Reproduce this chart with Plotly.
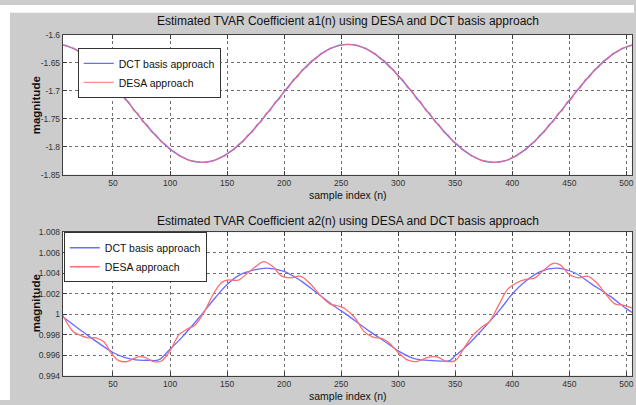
import plotly.graph_objects as go

W, H = 636, 405

# ---- a1(n): DCT basis estimate (every 8 samples) ----
dct_a1_n = list(range(0, 513, 8))
dct_a1 = [
    -1.6170, -1.6190, -1.6250, -1.6348, -1.6479, -1.6639, -1.6821, -1.7019,
    -1.7225, -1.7431, -1.7629, -1.7811, -1.7971, -1.8102, -1.8200, -1.8260,
    -1.8280, -1.8260, -1.8200, -1.8102, -1.7971, -1.7811, -1.7629, -1.7431,
    -1.7225, -1.7019, -1.6821, -1.6639, -1.6479, -1.6348, -1.6250, -1.6190,
    -1.6170, -1.6190, -1.6250, -1.6348, -1.6479, -1.6639, -1.6821, -1.7019,
    -1.7225, -1.7431, -1.7629, -1.7811, -1.7971, -1.8102, -1.8200, -1.8260,
    -1.8280, -1.8260, -1.8200, -1.8102, -1.7971, -1.7811, -1.7629, -1.7431,
    -1.7225, -1.7019, -1.6821, -1.6639, -1.6479, -1.6348, -1.6250, -1.6190,
    -1.6170,
]

# ---- a1(n): DESA estimate (every 4 samples, with ripple) ----
desa_a1_n = list(range(4, 509, 4))
desa_a1 = [
    -1.6177, -1.6185, -1.6222, -1.6240, -1.6307, -1.6334, -1.6426, -1.6461,
    -1.6575, -1.6618, -1.6750, -1.6798, -1.6943, -1.6994, -1.7147, -1.7200,
    -1.7353, -1.7406, -1.7555, -1.7606, -1.7744, -1.7790, -1.7913, -1.7953,
    -1.8056, -1.8088, -1.8167, -1.8190, -1.8242, -1.8255, -1.8277, -1.8280,
    -1.8277, -1.8255, -1.8242, -1.8190, -1.8167, -1.8088, -1.8056, -1.7953,
    -1.7913, -1.7790, -1.7744, -1.7606, -1.7555, -1.7406, -1.7353, -1.7200,
    -1.7147, -1.6994, -1.6943, -1.6798, -1.6750, -1.6618, -1.6575, -1.6461,
    -1.6426, -1.6334, -1.6307, -1.6240, -1.6222, -1.6185, -1.6177, -1.6170,
    -1.6177, -1.6185, -1.6222, -1.6240, -1.6307, -1.6334, -1.6426, -1.6461,
    -1.6575, -1.6618, -1.6750, -1.6798, -1.6943, -1.6994, -1.7147, -1.7200,
    -1.7353, -1.7406, -1.7555, -1.7606, -1.7744, -1.7790, -1.7913, -1.7953,
    -1.8056, -1.8088, -1.8167, -1.8190, -1.8242, -1.8255, -1.8277, -1.8280,
    -1.8277, -1.8255, -1.8242, -1.8190, -1.8167, -1.8088, -1.8056, -1.7953,
    -1.7913, -1.7790, -1.7744, -1.7606, -1.7555, -1.7406, -1.7353, -1.7200,
    -1.7147, -1.6994, -1.6943, -1.6798, -1.6750, -1.6618, -1.6575, -1.6461,
    -1.6426, -1.6334, -1.6307, -1.6240, -1.6222, -1.6185, -1.6177,
]

# ---- a2(n): DCT basis estimate ----
dct_a2_n = [6, 25, 50, 60, 70, 80, 90, 100, 110, 125, 140, 150, 160, 175, 185,
            200, 215, 230, 245, 253, 275, 290, 300, 315, 330, 345, 350, 360,
            375, 390, 400, 410, 425, 440, 455, 470, 485, 500, 505]
dct_a2 = [0.99975, 0.99816, 0.99626, 0.99578, 0.99553, 0.99550, 0.99553,
          0.99658, 0.99769, 0.99960, 1.00165, 1.00290, 1.00377, 1.00434,
          1.00450, 1.00418, 1.00323, 1.00197, 1.00070, 1.00010, 0.99832,
          0.99721, 0.99642, 0.99563, 0.99547, 0.99547, 0.99594, 0.99689,
          0.99864, 1.00054, 1.00197, 1.00307, 1.00418, 1.00450, 1.00402,
          1.00291, 1.00181, 1.00054, 1.00016]

# ---- a2(n): DESA estimate ----
desa_a2_n = [6, 15, 20, 28, 35, 42, 48, 55, 62, 72, 78, 85, 92, 100, 108, 115,
             122, 130, 138, 145, 150, 160, 168, 176, 182, 190, 198, 206, 214,
             222, 232, 240, 248, 253, 262, 270, 278, 286, 292, 300, 308, 316,
             326, 334, 342, 350, 358, 366, 374, 380, 388, 396, 404, 412, 420,
             428, 436, 442, 450, 458, 466, 474, 482, 490, 498, 505]
desa_a2 = [0.99990, 0.99830, 0.99800, 0.99769, 0.99769, 0.99730, 0.99626,
           0.99547, 0.99537, 0.99584, 0.99578, 0.99540, 0.99540, 0.99642,
           0.99800, 0.99854, 0.99895, 1.00022, 1.00197, 1.00307, 1.00333,
           1.00333, 1.00402, 1.00472, 1.00513, 1.00466, 1.00371, 1.00355,
           1.00371, 1.00307, 1.00181, 1.00101, 1.00079, 1.00055, 0.99965,
           0.99832, 0.99775, 0.99762, 0.99721, 0.99626, 0.99553, 0.99537,
           0.99578, 0.99584, 0.99540, 0.99547, 0.99674, 0.99800, 0.99880,
           0.99927, 1.00086, 1.00244, 1.00307, 1.00339, 1.00355, 1.00434,
           1.00497, 1.00481, 1.00387, 1.00355, 1.00371, 1.00307, 1.00197,
           1.00101, 1.00086, 1.00060]

x_ticks = [50, 100, 150, 200, 250, 300, 350, 400, 450, 500]
y1_ticks = [-1.6, -1.65, -1.7, -1.75, -1.8, -1.85]
y1_labels = ["-1.6", "-1.65", "-1.7", "-1.75", "-1.8", "-1.85"]
y2_ticks = [1.008, 1.006, 1.004, 1.002, 1.0, 0.998, 0.996, 0.994]
y2_labels = ["1.008", "1.006", "1.004", "1.002", "1", "0.998", "0.996", "0.994"]

titles = ["Estimated TVAR Coefficient a1(n) using DESA and DCT basis approach",
          "Estimated TVAR Coefficient a2(n) using DESA and DCT basis approach"]
x_label = "sample index (n)"
y_label = "magnitude"
names = ["DCT basis approach", "DESA approach"]

BLUE = "#6b6bff"
RED = "#ff6e6e"
FONT = "Liberation Sans, Arial, sans-serif"
BG = "#cccccc"


def px_x(p):
    return p / W


def px_y(p):
    return (H - p) / H


fig = go.Figure()

fig.add_trace(go.Scatter(x=dct_a1_n, y=dct_a1, name=names[0], mode="lines",
                         line=dict(color=BLUE, width=1.4, shape="spline"),
                         xaxis="x", yaxis="y", legend="legend"))
fig.add_trace(go.Scatter(x=desa_a1_n, y=desa_a1, name=names[1], mode="lines",
                         line=dict(color=RED, width=1.1), opacity=0.8,
                         xaxis="x", yaxis="y", legend="legend"))
fig.add_trace(go.Scatter(x=dct_a2_n, y=dct_a2, name=names[0], mode="lines",
                         line=dict(color=BLUE, width=1.3, shape="spline"),
                         xaxis="x2", yaxis="y2", legend="legend2"))
fig.add_trace(go.Scatter(x=desa_a2_n, y=desa_a2, name=names[1], mode="lines",
                         line=dict(color=RED, width=1.3, shape="spline"),
                         xaxis="x2", yaxis="y2", legend="legend2"))

x_dom = [px_x(63), px_x(634)]
top_dom = [px_y(174), px_y(30.6)]
bot_dom = [px_y(380), px_y(233)]

axis_common = dict(
    showgrid=True, gridcolor="#707070", gridwidth=1, griddash="dot",
    showline=True, linecolor="#404040", linewidth=1, mirror="ticks",
    ticks="inside", ticklen=4, tickcolor="#404040",
    tickfont=dict(family=FONT, size=8.5, color="#333333"),
    zeroline=False,
)

legend_common = dict(xanchor="left", yanchor="top", bgcolor="white",
                     bordercolor="#333333", borderwidth=1,
                     font=dict(family=FONT, size=10.5, color="#111111"),
                     tracegroupgap=0, itemwidth=30)

fig.update_layout(
    width=W, height=H,
    margin=dict(l=0, r=0, t=0, b=0),
    paper_bgcolor=BG, plot_bgcolor="white",
    xaxis=dict(domain=x_dom, anchor="y", range=[6, 505], tickvals=x_ticks,
               **axis_common),
    yaxis=dict(domain=top_dom, anchor="x", range=[-1.85, -1.6],
               tickvals=y1_ticks, ticktext=y1_labels, **axis_common),
    xaxis2=dict(domain=x_dom, anchor="y2", range=[6, 505], tickvals=x_ticks,
                **axis_common),
    yaxis2=dict(domain=bot_dom, anchor="x2", range=[0.994, 1.008],
                tickvals=y2_ticks, ticktext=y2_labels, **axis_common),
    legend=dict(x=px_x(78), y=px_y(44), **legend_common),
    legend2=dict(x=px_x(64), y=px_y(233), **legend_common),
    showlegend=True,
)

ann_font = dict(family=FONT, color="#111111")
annotations = [
    dict(text=titles[0], x=px_x(349), y=px_y(16.5), font=dict(size=12, **ann_font)),
    dict(text=titles[1], x=px_x(349), y=px_y(221), font=dict(size=12, **ann_font)),
    dict(text=x_label, x=px_x(349), y=px_y(195), font=dict(size=10.5, **ann_font)),
    dict(text=x_label, x=px_x(349), y=px_y(401), font=dict(size=10.5, **ann_font)),
    dict(text="<b>" + y_label + "</b>", x=px_x(37), y=px_y(103), textangle=-90,
         font=dict(size=11.5, **ann_font)),
    dict(text="<b>" + y_label + "</b>", x=px_x(37), y=px_y(306), textangle=-90,
         font=dict(size=11.5, **ann_font)),
]
for a in annotations:
    a.update(xref="paper", yref="paper", showarrow=False,
             xanchor="center", yanchor="middle")
fig.update_layout(annotations=annotations)

# white strips along the top and left edges of the canvas
fig.add_shape(type="rect", xref="paper", yref="paper", x0=0, x1=1,
              y0=px_y(8), y1=1, fillcolor="white", line_width=0, layer="above")
fig.add_shape(type="rect", xref="paper", yref="paper", x0=0, x1=px_x(10),
              y0=0, y1=1, fillcolor="white", line_width=0, layer="above")

fig.write_html("out.html")
